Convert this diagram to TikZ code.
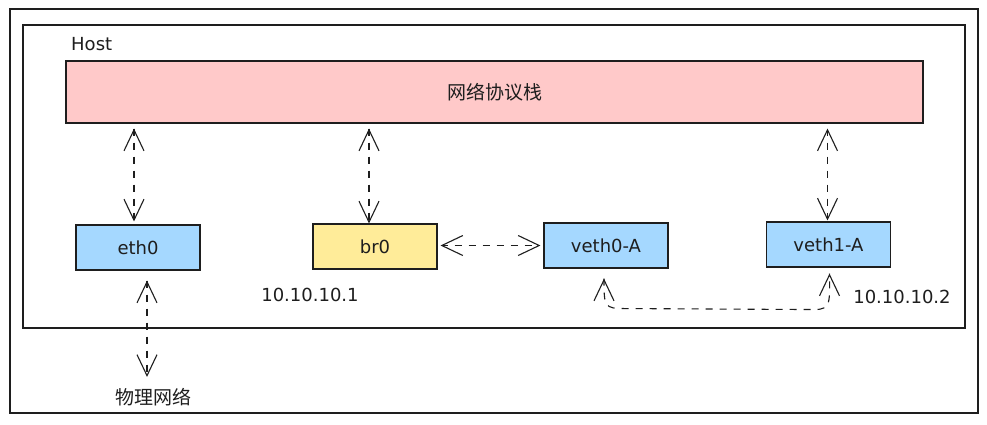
\documentclass[tikz,border=0pt]{standalone}
\usepackage{fontspec}
\setmainfont{DejaVu Sans}
\newfontfamily\cjk{Noto Sans CJK SC}
\usetikzlibrary{arrows.meta,calc,decorations.markings}
\definecolor{pinkf}{HTML}{FFC9C9}
\definecolor{bluef}{HTML}{A5D8FF}
\definecolor{yelf}{HTML}{FFEC99}
\definecolor{ink}{HTML}{1E1E1E}
\begin{document}
\begin{tikzpicture}[x=1pt,y=-1pt,
  frame/.style={draw=ink,line width=1.2pt},
  ifbox/.style={draw=ink,line width=1.1pt,minimum width=124pt,minimum height=45pt,inner sep=0pt,font=\fontsize{18}{20}\selectfont,text=ink},
  lbl/.style={inner sep=0pt,font=\fontsize{18}{20}\selectfont,text=ink},
  cjklbl/.style={inner sep=0pt,font=\cjk\fontsize{19}{21}\selectfont,text=ink},
  tipv/.tip={Straight Barb[length=21pt,width=20pt,line width=1.1pt]},
  link/.style={draw=ink,line width=1.1pt,dash pattern=on 7pt off 7pt,
    postaction={decorate},
    decoration={markings,
      mark=at position 0 with {\pgfsetdash{}{0pt}\arrowreversed{tipv}},
      mark=at position 1 with {\pgfsetdash{}{0pt}\arrow{tipv}}}}]
\useasboundingbox (0,0) rectangle (987,424);
\fill[white] (0,0) rectangle (987,424);
\draw[frame] (10,9) rectangle (978,413);
\draw[frame] (23,25) rectangle (965,328);
\node[lbl,anchor=west] (host) at (71,44) {Host};
\node[draw=ink,line width=1.1pt,fill=pinkf,minimum width=857pt,minimum height=62pt,inner sep=0pt,cjklbl] (stack) at (494.5,92) {网络协议栈};
\node[ifbox,fill=bluef] (eth0) at (138,247.5) {eth0};
\node[ifbox,fill=yelf] (br0) at (375,246.5) {br0};
\node[ifbox,fill=bluef] (veth0) at (606,245.5) {veth0-A};
\node[ifbox,fill=bluef] (veth1) at (828.5,244.5) {veth1-A};
\node[lbl] (ip1) at (310,295) {10.10.10.1};
\node[lbl] (ip2) at (902,297) {10.10.10.2};
\node[cjklbl] (phy) at (153,397) {物理网络};
\draw[link] ($(stack.south -| eth0.north)+(-4,5)$) -- ($(eth0.north)+(-4,-3)$);
\draw[link] ($(stack.south -| br0.north)+(-6,5)$) -- ($(br0.north)+(-6,0)$);
\draw[link] ($(stack.south -| veth1.north)+(-1,5)$) -- ($(veth1.north)+(-1,-1)$);
\draw[link] ($(eth0.south)+(9,10)$) -- ($(phy.north)+(-6,-11)$);
\draw[link] ($(br0.east)+(3,-1)$) -- ($(veth0.west)+(-3,0)$);
\draw[link] ($(veth0.south)+(-2,10)$) .. controls ($(veth0.south)+(-2,38)$) and ($(veth0.south)+(-2,40)$) .. ($(veth0.south)+(19,40)$) -- ($(veth1.south)+(-14,42)$) .. controls ($(veth1.south)+(3,42)$) and ($(veth1.south)+(1,34)$) .. ($(veth1.south)+(1,6)$);
\end{tikzpicture}
\end{document}
